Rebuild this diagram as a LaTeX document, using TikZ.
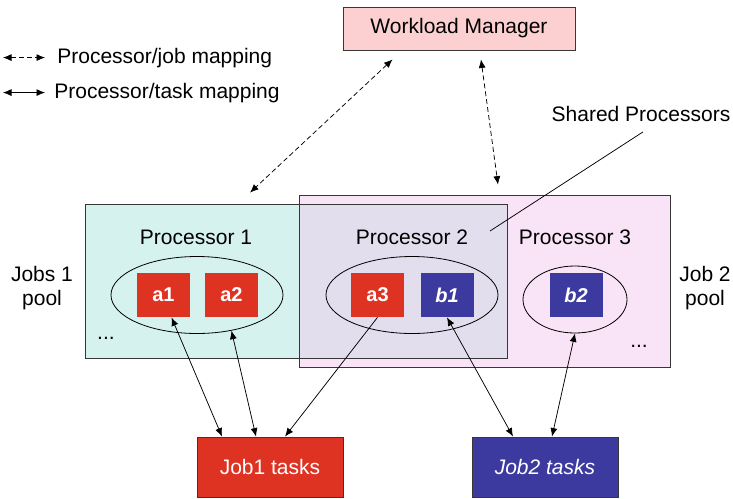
\documentclass[tikz,border=0pt]{standalone}
\usepackage{fontspec}
\setmainfont{Liberation Sans}
\usetikzlibrary{shapes.geometric,arrows.meta}
\definecolor{jobred}{RGB}{222,50,35}
\definecolor{jobblue}{RGB}{60,58,158}
\definecolor{wmpink}{RGB}{252,208,208}
\definecolor{poolteal}{RGB}{214,242,239}
\definecolor{poolpink}{RGB}{248,228,246}
\definecolor{poolmix}{RGB}{226,222,238}
\definecolor{edgegray}{RGB}{55,55,55}
\tikzset{
  txt/.style={font=\fontsize{21}{24}\selectfont},
  box/.style={draw=edgegray, line width=0.9pt},
  pool/.style={inner sep=0pt},
  proc/.style={ellipse, draw=black, line width=0.8pt, inner sep=0pt},
  task/.style={minimum width=53pt, minimum height=44pt, inner sep=0pt, text=white, font=\fontsize{20}{24}\selectfont\bfseries},
  jobbox/.style={box, txt, text=white, minimum width=146pt, minimum height=60pt},
  jobmap/.style={dash pattern=on 5pt off 3pt}
}
\begin{document}
\begin{tikzpicture}[x=1pt, y=-1pt, line width=0.75pt, >={Latex[length=8.5pt,width=7pt]}]
                \useasboundingbox (0,0) rectangle (733,498);
                % Legend
                \node[txt, anchor=base west, inner sep=0pt] (legjob) at (57,63) {Processor/job mapping};
                \node[txt, anchor=base west, inner sep=0pt] (legtask) at (54,98) {Processor/task mapping};
                \draw[<->, jobmap] ([xshift=-54pt]legjob.west) -- ([xshift=-12pt]legjob.west);
                \draw[<->] ([xshift=-51pt]legtask.west) -- ([xshift=-9pt]legtask.west);

                % Workload manager
                \node[box, txt, fill=wmpink, minimum width=232pt, minimum height=43pt] (wm) at (459,28.5) {Workload Manager};

                % Pools, overlap shaded
                \node[pool, fill=poolteal, minimum width=421pt, minimum height=153pt] (pool1) at (296.5,281.5) {};
                \node[pool, fill=poolpink, minimum width=370pt, minimum height=171pt] (pool2) at (485,281.5) {};
                \begin{scope}
                    \clip (pool1.south west) rectangle (pool1.north east);
                    \fill[poolmix] (pool2.south west) rectangle (pool2.north east);
                \end{scope}
                \draw[box] (pool1.south west) rectangle (pool1.north east);
                \draw[box] (pool2.south west) rectangle (pool2.north east);

                \node[txt, align=center] (pool1lbl) at (42,288) {Jobs 1\\pool};
                \node[txt, align=center] (pool2lbl) at (705,288) {Job 2\\pool};

                % Processors
                \node[txt, anchor=base] (p1) at (196,244) {Processor 1};
                \node[txt, anchor=base] (p2) at (412,244) {Processor 2};
                \node[txt, anchor=base] (p3) at (575,244) {Processor 3};
                \node[proc, minimum width=172pt, minimum height=77pt] (e1) at (197,295) {};
                \node[proc, minimum width=172pt, minimum height=77pt] (e2) at (412,295) {};
                \node[proc, minimum width=104pt, minimum height=67pt] (e3) at (575,299.5) {};
                \node[txt, anchor=base] (dots1) at (106,339) {...};
                \node[txt, anchor=base] (dots2) at (639,347) {...};

                % Tasks
                \foreach \n/\x/\c/\t in {a1/163.5/jobred/a1, a2/231.5/jobred/a2, a3/377.5/jobred/a3, b1/447/jobblue/\itshape b1, b2/576/jobblue/\itshape b2}
                    \node[task, fill=\c] (\n) at (\x,295) {\t};

                % Shared processors
                \node[txt, anchor=base] (shared) at (641,121) {Shared Processors};
                \coordinate (shr) at (490,231);
                \draw ([xshift=2pt,yshift=-7pt]shared.south) -- (shr);

                % Job tasks
                \node[jobbox, fill=jobred] (job1) at (270,467) {Job1 tasks};
                \node[jobbox, fill=jobblue] (job2) at (545,467) {\itshape Job2 tasks};

                % Processor/job mapping
                \draw[<->, jobmap] ([xshift=50pt,yshift=-9pt]wm.south west) -- ([xshift=-46.5pt,yshift=12pt]pool1.north);
                \draw[<->, jobmap] ([xshift=22pt,yshift=-9pt]wm.south) -- ([xshift=13pt,yshift=11pt]pool2.north);

                % Processor/task mapping
                \draw[<->] ([xshift=8pt]a1.south) -- ([xshift=-48pt]job1.north);
                \draw[<->] (e1.-46) -- ([xshift=-14pt]job1.north);
                \draw[->] (a3.south) -- ([xshift=15pt]job1.north);
                \draw[<->] (b1.south) -- ([xshift=-32pt]job2.north);
                \draw[<->] (e3.south) -- ([xshift=7pt]job2.north);
            \end{tikzpicture}
\end{document}
